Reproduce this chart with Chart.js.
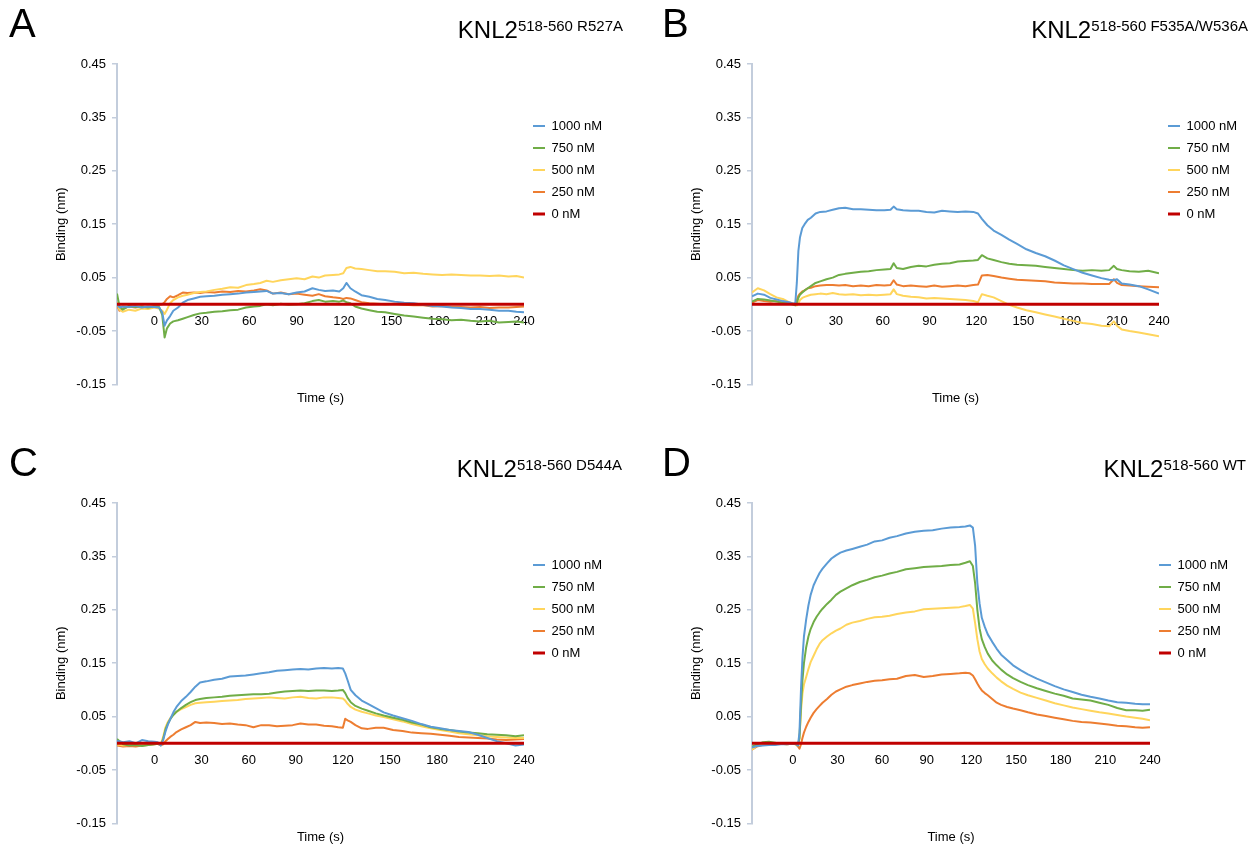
<!DOCTYPE html>
<html>
<head>
<meta charset="utf-8">
<script src="https://cdn.jsdelivr.net/npm/chart.js@4.4.1/dist/chart.umd.min.js"></script>
<style>
  body { margin: 0; background: #fff; font-family: "Liberation Sans", Arial, sans-serif; color: #000; }
  #page { position: relative; width: 1251px; height: 847px; overflow: hidden; }
  canvas { position: absolute; }
  .letter { position: absolute; font-size: 40px; line-height: 40px; }
  .title { position: absolute; left: 0; text-align: right; font-size: 24px; line-height: 24px; white-space: nowrap; }
  .title sup { font-size: 15px; vertical-align: 7px; line-height: 0; }
</style>
</head>
<body>
<div id="page">
  <canvas id="chartA" width="609" height="425" style="left:0;top:0"></canvas>
  <canvas id="chartB" width="609" height="425" style="left:635px;top:0"></canvas>
  <canvas id="chartC" width="609" height="425" style="left:0;top:439px"></canvas>
  <canvas id="chartD" width="600" height="425" style="left:635px;top:439px"></canvas>

  <div class="letter" style="left:9px;top:3px">A</div>
  <div class="letter" style="left:662px;top:3px">B</div>
  <div class="letter" style="left:9px;top:442px">C</div>
  <div class="letter" style="left:662px;top:442px">D</div>

  <div class="title" style="width:623px;top:18px">KNL2<sup>518-560 R527A</sup></div>
  <div class="title" style="width:1248px;top:18px">KNL2<sup>518-560 F535A/W536A</sup></div>
  <div class="title" style="width:622px;top:457px">KNL2<sup>518-560 D544A</sup></div>
  <div class="title" style="width:1246px;top:457px">KNL2<sup>518-560 WT</sup></div>
</div>

<script>
// axis labels
var xTicks = [0, 30, 60, 90, 120, 150, 180, 210, 240];
var yTicks = [-0.15, -0.05, 0.05, 0.15, 0.25, 0.35, 0.45];
var concLabels = ["1000 nM", "750 nM", "500 nM", "250 nM", "0 nM"];
var concColors = ["#5b9bd5", "#70ad47", "#ffd55c", "#ed7d31", "#c00000"];

// 0 nM reference: flat line over the whole run
var zeroNM = [0, 0];

// ---- A: R527A ----
var tA = [-23.6, -22, -20, -16, -12, -8, -4, 0, 3, 5,
  6.5, 8, 10, 12, 15, 18, 21, 25, 29, 33,
  38, 43, 48, 53, 58, 63, 67, 71, 75, 80,
  85, 90, 95, 100, 104, 108, 113, 117, 119.5, 121.5,
  124, 127, 131, 136, 141, 146, 152, 158, 164, 170,
  176, 182, 188, 194, 200, 206, 212, 218, 224, 229, 233.8];
var a1000 = [0.000, -0.006, -0.004, -0.005, -0.003, -0.006, -0.004, -0.005, -0.006, -0.015,
  -0.040, -0.030, -0.022, -0.012, -0.006, 0.003, 0.008, 0.011, 0.014, 0.015,
  0.016, 0.018, 0.019, 0.020, 0.022, 0.023, 0.024, 0.025, 0.020, 0.021,
  0.019, 0.022, 0.024, 0.030, 0.027, 0.025, 0.026, 0.024, 0.030, 0.040,
  0.030, 0.024, 0.017, 0.014, 0.010, 0.008, 0.005, 0.003, 0.002, -0.001,
  -0.003, -0.004, -0.006, -0.007, -0.009, -0.009, -0.010, -0.012, -0.012, -0.014, -0.015];
var a750 = [0.020, -0.004, -0.010, -0.003, -0.005, -0.004, -0.006, -0.004, -0.005, -0.020,
  -0.062, -0.045, -0.036, -0.032, -0.030, -0.027, -0.024, -0.020, -0.017, -0.016,
  -0.014, -0.013, -0.011, -0.010, -0.006, -0.004, -0.003, 0.000, -0.002, 0.001,
  -0.001, 0.000, 0.002, 0.006, 0.008, 0.005, 0.006, 0.005, 0.007, 0.004,
  0.002, -0.004, -0.008, -0.011, -0.014, -0.015, -0.018, -0.021, -0.023, -0.025,
  -0.027, -0.028, -0.030, -0.029, -0.031, -0.032, -0.031, -0.034, -0.033, -0.032, -0.034];
var a500 = [0.004, -0.010, -0.014, -0.010, -0.012, -0.008, -0.009, -0.006, -0.008, -0.012,
  -0.018, -0.010, 0.002, 0.008, 0.013, 0.016, 0.018, 0.021, 0.023, 0.024,
  0.027, 0.029, 0.032, 0.031, 0.036, 0.038, 0.040, 0.044, 0.042, 0.045,
  0.047, 0.049, 0.047, 0.052, 0.050, 0.054, 0.055, 0.056, 0.058, 0.068,
  0.070, 0.067, 0.066, 0.064, 0.062, 0.062, 0.061, 0.058, 0.059, 0.057,
  0.056, 0.055, 0.056, 0.055, 0.054, 0.054, 0.053, 0.054, 0.052, 0.053, 0.050];
var a250 = [-0.002, -0.012, -0.008, -0.004, -0.006, -0.004, -0.006, -0.003, -0.001, 0.000,
  0.004, 0.010, 0.015, 0.013, 0.017, 0.022, 0.021, 0.022, 0.021, 0.023,
  0.022, 0.024, 0.023, 0.025, 0.024, 0.026, 0.028, 0.026, 0.020, 0.022,
  0.019, 0.020, 0.018, 0.016, 0.019, 0.015, 0.013, 0.012, 0.010, 0.012,
  0.011, 0.008, 0.004, 0.002, 0.001, 0.000, 0.001, -0.001, -0.002, -0.002,
  -0.004, -0.003, -0.005, -0.005, -0.006, -0.005, -0.007, -0.006, -0.006, -0.005, -0.004];

// ---- B: F535A/W536A ----
var tB = [-23.7, -20, -16, -12, -8, -4, 0, 2, 4, 5,
  6, 7, 8.5, 10, 12, 14, 17, 20, 24, 28,
  32, 36, 41, 46, 51, 56, 61, 65, 67, 69,
  73, 78, 83, 88, 93, 98, 103, 108, 113, 118,
  121, 123.5, 127, 131, 136, 141, 146, 152, 158, 164,
  170, 176, 182, 188, 194, 200, 205, 208, 210, 213,
  218, 224, 230, 236.9];
var b1000 = [0.015, 0.020, 0.018, 0.012, 0.009, 0.006, 0.004, 0.002, 0.001, 0.040,
  0.100, 0.125, 0.143, 0.150, 0.158, 0.162, 0.170, 0.173, 0.174, 0.177,
  0.180, 0.181, 0.178, 0.178, 0.177, 0.176, 0.176, 0.177, 0.183, 0.178,
  0.176, 0.175, 0.175, 0.173, 0.172, 0.175, 0.174, 0.173, 0.174, 0.173,
  0.170, 0.160, 0.148, 0.138, 0.130, 0.121, 0.113, 0.103, 0.096, 0.090,
  0.082, 0.073, 0.066, 0.059, 0.054, 0.049, 0.046, 0.045, 0.047, 0.039,
  0.037, 0.034, 0.028, 0.020];
var b750 = [0.005, 0.010, 0.009, 0.007, 0.005, 0.003, 0.002, 0.000, -0.002, 0.003,
  0.012, 0.018, 0.022, 0.026, 0.030, 0.034, 0.040, 0.043, 0.047, 0.050,
  0.055, 0.057, 0.059, 0.061, 0.062, 0.064, 0.065, 0.066, 0.077, 0.068,
  0.066, 0.070, 0.072, 0.071, 0.074, 0.076, 0.077, 0.080, 0.081, 0.082,
  0.083, 0.092, 0.086, 0.083, 0.079, 0.076, 0.074, 0.073, 0.072, 0.070,
  0.068, 0.066, 0.064, 0.063, 0.064, 0.063, 0.064, 0.072, 0.066, 0.064,
  0.062, 0.061, 0.063, 0.058];
var b500 = [0.022, 0.030, 0.026, 0.019, 0.013, 0.010, 0.004, 0.002, -0.001, -0.002,
  0.002, 0.008, 0.012, 0.014, 0.016, 0.018, 0.019, 0.020, 0.019, 0.021,
  0.019, 0.018, 0.019, 0.017, 0.018, 0.017, 0.018, 0.019, 0.028, 0.019,
  0.016, 0.014, 0.013, 0.011, 0.012, 0.011, 0.010, 0.009, 0.008, 0.006,
  0.004, 0.019, 0.016, 0.013, 0.006, -0.001, -0.006, -0.011, -0.015, -0.019,
  -0.023, -0.027, -0.031, -0.035, -0.037, -0.040, -0.041, -0.032, -0.040, -0.047,
  -0.050, -0.053, -0.056, -0.060];
var b250 = [0.003, 0.008, 0.006, 0.005, 0.006, 0.003, 0.001, 0.001, 0.000, 0.008,
  0.016, 0.020, 0.024, 0.026, 0.030, 0.031, 0.034, 0.035, 0.036, 0.036,
  0.035, 0.036, 0.034, 0.035, 0.034, 0.036, 0.035, 0.036, 0.045, 0.037,
  0.034, 0.035, 0.034, 0.033, 0.035, 0.033, 0.034, 0.035, 0.034, 0.036,
  0.037, 0.054, 0.055, 0.053, 0.050, 0.048, 0.046, 0.045, 0.044, 0.043,
  0.041, 0.040, 0.039, 0.039, 0.038, 0.038, 0.038, 0.047, 0.040, 0.036,
  0.035, 0.034, 0.033, 0.032];

// ---- C: D544A ----
var tC = [-23.9, -20, -16, -12, -8, -4, 0, 2, 4, 5.5,
  7, 8.5, 10, 12, 14, 17, 20, 23, 26, 29,
  33, 38, 43, 48, 53, 58, 63, 68, 73, 78,
  83, 88, 93, 98, 103, 108, 113, 117, 120, 121.5,
  123, 125, 128, 132, 136, 141, 146, 152, 158, 164,
  170, 176, 182, 188, 194, 200, 206, 212, 218, 224,
  230, 235.4];
var c1000 = [0.005, 0.002, 0.004, 0.000, 0.006, 0.004, 0.003, 0.002, -0.004, 0.006,
  0.022, 0.035, 0.045, 0.058, 0.068, 0.079, 0.087, 0.096, 0.106, 0.114,
  0.116, 0.119, 0.121, 0.125, 0.126, 0.127, 0.129, 0.131, 0.133, 0.136,
  0.137, 0.138, 0.139, 0.138, 0.140, 0.141, 0.140, 0.141, 0.140, 0.131,
  0.118, 0.100, 0.090, 0.080, 0.074, 0.066, 0.058, 0.052, 0.047, 0.042,
  0.036, 0.031, 0.028, 0.025, 0.023, 0.021, 0.016, 0.010, 0.004, 0.000,
  -0.004, -0.002];
var c750 = [0.008, -0.002, -0.004, -0.003, -0.005, -0.003, -0.002, -0.001, -0.003, 0.008,
  0.026, 0.037, 0.045, 0.053, 0.059, 0.066, 0.072, 0.077, 0.081, 0.083,
  0.085, 0.086, 0.087, 0.089, 0.090, 0.091, 0.092, 0.092, 0.093, 0.095,
  0.097, 0.098, 0.099, 0.098, 0.099, 0.099, 0.098, 0.099, 0.100, 0.094,
  0.085, 0.077, 0.070, 0.065, 0.061, 0.056, 0.052, 0.048, 0.044, 0.039,
  0.035, 0.030, 0.027, 0.025, 0.022, 0.020, 0.019, 0.017, 0.016, 0.015,
  0.013, 0.015];
var c500 = [-0.002, -0.004, -0.003, -0.002, -0.004, -0.001, -0.001, 0.000, -0.002, 0.012,
  0.030, 0.040, 0.047, 0.054, 0.059, 0.064, 0.068, 0.072, 0.075, 0.076,
  0.077, 0.078, 0.079, 0.080, 0.081, 0.083, 0.084, 0.085, 0.086, 0.085,
  0.084, 0.086, 0.087, 0.085, 0.084, 0.086, 0.086, 0.085, 0.084, 0.080,
  0.074, 0.068, 0.063, 0.059, 0.056, 0.052, 0.049, 0.045, 0.041, 0.036,
  0.032, 0.028, 0.025, 0.022, 0.019, 0.017, 0.015, 0.013, 0.012, 0.011,
  0.010, 0.010];
var c250 = [-0.004, -0.006, -0.005, -0.006, -0.004, -0.003, -0.002, -0.001, -0.004, -0.002,
  0.004, 0.008, 0.012, 0.016, 0.021, 0.026, 0.030, 0.034, 0.040, 0.038,
  0.039, 0.038, 0.036, 0.037, 0.035, 0.034, 0.030, 0.034, 0.034, 0.032,
  0.033, 0.034, 0.037, 0.035, 0.035, 0.033, 0.032, 0.030, 0.029, 0.046,
  0.043, 0.040, 0.034, 0.028, 0.027, 0.029, 0.029, 0.025, 0.023, 0.020,
  0.019, 0.018, 0.016, 0.014, 0.012, 0.011, 0.010, 0.009, 0.007, 0.006,
  0.007, 0.008];

// ---- D: WT ----
var tD = [-27.4, -24, -20, -16, -12, -8, -4, 0, 2, 3.5,
  4.5, 5.5, 6.5, 7.5, 9, 10.5, 12, 14, 16, 18,
  20, 23, 26, 29, 32, 36, 40, 45, 50, 55,
  60, 65, 70, 76, 82, 88, 94, 100, 106, 112,
  116, 119, 121, 122.5, 124, 125.5, 127, 129, 131, 134,
  137, 140, 144, 148, 153, 158, 164, 170, 176, 182,
  188, 194, 200, 206, 212, 218, 224, 230, 235, 240];
var d1000 = [-0.008, -0.005, -0.004, -0.003, -0.003, -0.002, -0.002, -0.001, -0.001, -0.004,
  0.020, 0.100, 0.160, 0.200, 0.232, 0.258, 0.278, 0.296, 0.308, 0.319,
  0.327, 0.337, 0.346, 0.352, 0.357, 0.361, 0.364, 0.368, 0.372, 0.378,
  0.380, 0.385, 0.388, 0.393, 0.396, 0.398, 0.399, 0.402, 0.404, 0.405,
  0.406, 0.408, 0.404, 0.370, 0.300, 0.262, 0.235, 0.218, 0.204, 0.190,
  0.177, 0.166, 0.156, 0.146, 0.137, 0.129, 0.121, 0.114, 0.107, 0.101,
  0.096, 0.091, 0.087, 0.084, 0.080, 0.077, 0.076, 0.074, 0.073, 0.073];
var d750 = [-0.006, -0.002, 0.002, 0.003, 0.001, -0.001, -0.001, -0.001, -0.001, -0.004,
  0.010, 0.070, 0.118, 0.150, 0.180, 0.200, 0.214, 0.227, 0.237, 0.245,
  0.252, 0.261, 0.269, 0.278, 0.284, 0.290, 0.296, 0.302, 0.306, 0.311,
  0.314, 0.318, 0.321, 0.326, 0.328, 0.330, 0.331, 0.332, 0.334, 0.335,
  0.338, 0.341, 0.332, 0.300, 0.250, 0.215, 0.195, 0.180, 0.168, 0.155,
  0.146, 0.138, 0.129, 0.122, 0.115, 0.109, 0.103, 0.098, 0.093, 0.089,
  0.084, 0.082, 0.080, 0.076, 0.072, 0.066, 0.062, 0.062, 0.061, 0.063];
var d500 = [-0.012, -0.004, -0.002, -0.003, -0.002, -0.001, -0.002, -0.001, -0.002, -0.004,
  0.010, 0.060, 0.093, 0.110, 0.124, 0.139, 0.152, 0.164, 0.176, 0.186,
  0.193, 0.200, 0.206, 0.211, 0.215, 0.222, 0.226, 0.229, 0.233, 0.236,
  0.237, 0.239, 0.242, 0.245, 0.247, 0.251, 0.252, 0.253, 0.254, 0.255,
  0.257, 0.259, 0.252, 0.225, 0.195, 0.172, 0.158, 0.148, 0.140, 0.131,
  0.123, 0.116, 0.108, 0.102, 0.095, 0.090, 0.085, 0.080, 0.075, 0.071,
  0.067, 0.064, 0.061, 0.058, 0.056, 0.053, 0.050, 0.048, 0.046, 0.043];
var d250 = [-0.012, -0.006, -0.003, -0.002, -0.002, -0.001, -0.002, -0.001, -0.002, -0.006,
  -0.010, -0.002, 0.010, 0.020, 0.031, 0.040, 0.048, 0.057, 0.064, 0.070,
  0.076, 0.083, 0.091, 0.097, 0.101, 0.106, 0.109, 0.112, 0.115, 0.117,
  0.118, 0.120, 0.121, 0.126, 0.128, 0.124, 0.126, 0.129, 0.130, 0.131,
  0.132, 0.131, 0.127, 0.120, 0.112, 0.105, 0.099, 0.094, 0.090, 0.083,
  0.076, 0.072, 0.068, 0.065, 0.062, 0.058, 0.054, 0.051, 0.048, 0.045,
  0.042, 0.040, 0.039, 0.037, 0.035, 0.033, 0.032, 0.030, 0.029, 0.030];

Chart.defaults.font.family = '"Liberation Sans", Arial, sans-serif';
Chart.defaults.font.size = 13;
Chart.defaults.color = "#000";

var axisGray = "#c3cddc";

function buildChart(canvasId, times, series) {
    var first = times[0];
    var last = times[times.length - 1];

    var datasets = series.map(function (vals, i) {
        var pts;
        if (vals.length === times.length) {
            pts = times.map(function (t, j) { return { x: t, y: vals[j] }; });
        } else {
            // 0 nM: one value at the start and one at the end of the run
            pts = [{ x: first, y: vals[0] }, { x: last, y: vals[1] }];
        }
        var isZero = i === series.length - 1;
        return {
            label: concLabels[i],
            data: pts,
            xAxisID: "x",
            yAxisID: "y",
            borderColor: concColors[i],
            backgroundColor: concColors[i],
            borderWidth: isZero ? 3 : 2,
            pointRadius: 0,
            borderJoinStyle: "round",
            order: isZero ? 0 : i + 1,
        };
    });

    return new Chart(document.getElementById(canvasId).getContext("2d"), {
        type: "line",
        data: { datasets: datasets },
        options: {
            responsive: false,
            animation: false,
            layout: { padding: { left: 50, top: 64, right: 0, bottom: 19 } },
            scales: {
                x: {
                    type: "linear",
                    min: first,
                    max: last,
                    position: { y: 0 },
                    grid: { display: false, drawTicks: false },
                    border: { display: false },
                    afterBuildTicks: function (scale) {
                        // last label sits at the end of the run, as in the original
                        scale.ticks = xTicks.map(function (v) { return { value: Math.min(v, scale.max) }; });
                    },
                    ticks: {
                        autoSkip: false,
                        maxRotation: 0,
                        padding: 9,
                        callback: function (value, index) { return String(xTicks[index]); },
                    },
                },
                x2: {
                    type: "linear",
                    position: "bottom",
                    grid: { display: false, drawTicks: false },
                    border: { display: false },
                    ticks: { display: false },
                    title: { display: true, text: "Time (s)", padding: { top: 6, bottom: 0 } },
                },
                y: {
                    type: "linear",
                    min: -0.15,
                    max: 0.45,
                    afterFit: function (scale) { scale.width = 67; },
                    afterBuildTicks: function (scale) {
                        scale.ticks = yTicks.map(function (v) { return { value: v }; });
                    },
                    grid: { drawOnChartArea: false, drawTicks: true, tickLength: 5, color: axisGray, lineWidth: 1.5 },
                    border: { display: true, color: axisGray, width: 2 },
                    ticks: {
                        padding: 6,
                        callback: function (value) { return value.toFixed(2); },
                    },
                    title: { display: true, text: "Binding (nm)", padding: { top: 4, bottom: 0 } },
                },
            },
            plugins: {
                tooltip: { enabled: false },
                legend: {
                    position: "right",
                    align: "start",
                    maxWidth: 85,
                    title: { display: true, text: " ", padding: { top: 34.5, bottom: 0 }, font: { size: 10 } },
                    labels: {
                        usePointStyle: true,
                        pointStyle: "line",
                        pointStyleWidth: 12,
                        padding: 9,
                        font: { size: 13 },
                        sort: function (a, b) { return a.datasetIndex - b.datasetIndex; },
                    },
                },
            },
        },
    });
}

buildChart("chartA", tA, [a1000, a750, a500, a250, zeroNM]);
buildChart("chartB", tB, [b1000, b750, b500, b250, zeroNM]);
buildChart("chartC", tC, [c1000, c750, c500, c250, zeroNM]);
buildChart("chartD", tD, [d1000, d750, d500, d250, zeroNM]);
</script>
</body>
</html>
